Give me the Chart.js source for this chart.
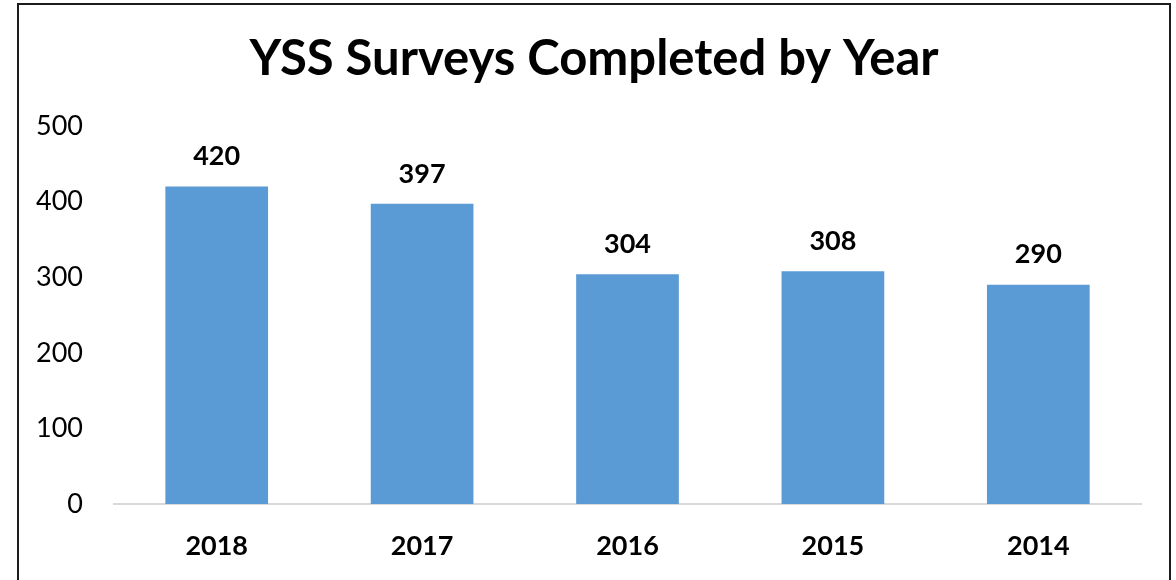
<!DOCTYPE html>
<html>
<head>
<meta charset="utf-8">
<script src="https://cdn.jsdelivr.net/npm/chart.js@4/dist/chart.umd.min.js"></script>
<style>
  html, body { margin: 0; padding: 0; background: #fff; overflow: hidden; }
  #wrap { position: relative; width: 1176px; height: 580px; }
  #frame {
    position: absolute; left: 17px; top: 3px; width: 1150px; height: 600px;
    border: 2px solid #1c1c1c; pointer-events: none;
  }
</style>
</head>
<body>
<div id="wrap">
  <canvas id="surveyChart" width="1176" height="580"></canvas>
  <div id="frame"></div>
</div>
<script>
const years = ["2018", "2017", "2016", "2015", "2014"];
const surveys = [420, 397, 304, 308, 290];
const yTicks = [0, 100, 200, 300, 400, 500];
const chartTitle = "YSS Surveys Completed by Year";

const fontFamily = "Lato, 'Open Sans', sans-serif";

// Title is centred on the framed box rather than the plot area
const boxTitle = {
  id: "boxTitle",
  afterDraw(chart) {
    const ctx = chart.ctx;
    ctx.save();
    ctx.font = "bold 49px " + fontFamily;
    ctx.fillStyle = "#000";
    ctx.textAlign = "center";
    ctx.textBaseline = "alphabetic";
    ctx.fillText(chartTitle, 594, 75);
    ctx.restore();
  }
};

// Bold value above each bar
const valueLabels = {
  id: "valueLabels",
  afterDatasetsDraw(chart) {
    const ctx = chart.ctx;
    const meta = chart.getDatasetMeta(0);
    ctx.save();
    ctx.font = "bold 27px " + fontFamily;
    ctx.fillStyle = "#000";
    ctx.textAlign = "center";
    ctx.textBaseline = "middle";
    meta.data.forEach((bar, i) => {
      ctx.fillText(String(surveys[i]), bar.x, bar.y - 30);
    });
    ctx.restore();
  }
};

const ctx = document.getElementById("surveyChart").getContext("2d");
new Chart(ctx, {
  type: "bar",
  data: {
    labels: years,
    datasets: [{
      data: surveys,
      backgroundColor: "#5b9bd5",
      borderWidth: 0,
      barPercentage: 0.5,
      categoryPercentage: 1.0
    }]
  },
  options: {
    responsive: false,
    animation: false,
    layout: { padding: { left: 0, right: 35, top: 126, bottom: 0 } },
    plugins: {
      legend: { display: false },
      tooltip: { enabled: false },
      title: { display: false }
    },
    scales: {
      x: {
        grid: { display: false, drawTicks: false },
        border: { display: true, color: "#d9d9d9", width: 2 },
        ticks: {
          color: "#000",
          padding: 26,
          font: { family: fontFamily, size: 27, weight: "bold" }
        },
        afterFit(scale) { scale.height = 76; }
      },
      y: {
        min: 0,
        max: 500,
        grid: { display: false, drawTicks: false },
        border: { display: false },
        afterBuildTicks(scale) { scale.ticks = yTicks.map(v => ({ value: v })); },
        ticks: {
          color: "#000",
          padding: 31,
          font: { family: fontFamily, size: 27 }
        },
        afterFit(scale) { scale.width = 114; }
      }
    }
  },
  plugins: [valueLabels, boxTitle]
});
</script>
</body>
</html>
